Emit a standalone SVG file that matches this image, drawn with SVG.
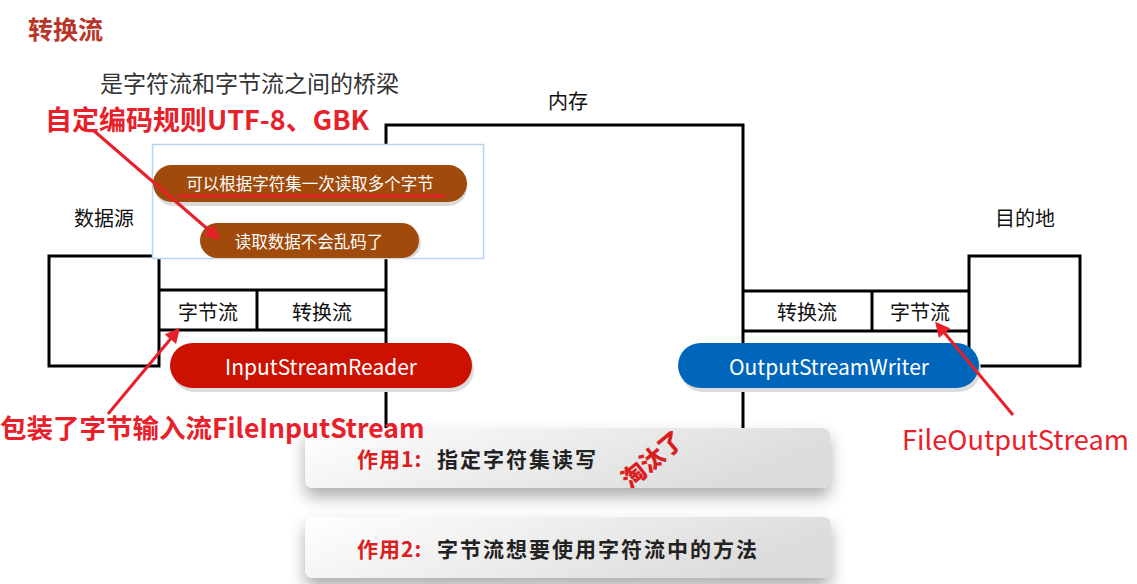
<svg xmlns="http://www.w3.org/2000/svg" width="1137" height="584" viewBox="0 0 1137 584">
<style>
text{font-family:"Noto Sans CJK SC","Noto Sans",sans-serif}
.ln{stroke:#000;stroke-width:3;fill:none}
.lbl{font-size:20px;fill:#111;text-anchor:middle;dominant-baseline:central}
.red{fill:#e8202a;font-weight:bold}
.pilltxt{fill:#fff;font-size:16.5px;text-anchor:middle;dominant-baseline:central}
.pilltxt2{fill:#fff;font-size:21px;text-anchor:middle;dominant-baseline:central}
.arrow{stroke:#e8202a;stroke-width:3;fill:none;marker-end:url(#ah)}
.card{fill:url(#cg);filter:url(#sh)}
.cardtxt{font-size:21px;font-weight:bold;fill:#222;letter-spacing:2px;dominant-baseline:central}
.cardkey{font-size:21px;font-weight:bold;fill:#d9201f;letter-spacing:1px;dominant-baseline:central}
</style>
<defs>
<marker id="ah" viewBox="0 0 10 10" refX="8" refY="5" markerWidth="5" markerHeight="5" orient="auto">
<path d="M0,0 L10,5 L0,10 z" fill="#e8202a"/>
</marker>
<linearGradient id="cg" x1="0" y1="0" x2="1" y2="0.3">
<stop offset="0" stop-color="#ffffff"/>
<stop offset="1" stop-color="#dcdcdc"/>
</linearGradient>
<filter id="sh" x="-10%" y="-30%" width="120%" height="190%">
<feDropShadow dx="0" dy="9" stdDeviation="8" flood-color="#000" flood-opacity="0.32"/>
</filter>
</defs>

<text x="28" y="28" font-size="25" font-weight="bold" fill="#b8352a" dominant-baseline="central">转换流</text>
<text x="100" y="82" font-size="23" fill="#333" dominant-baseline="central">是字符流和字节流之间的桥梁</text>

<g id="connectors">
<path class="ln" d="M386,428 V125 H743 V428"/>
<line class="ln" x1="159" y1="290" x2="386" y2="290"/>
<line class="ln" x1="159" y1="330" x2="386" y2="330"/>
<line class="ln" x1="257" y1="290" x2="257" y2="330"/>
<line class="ln" x1="743" y1="291" x2="968" y2="291"/>
<line class="ln" x1="743" y1="331" x2="968" y2="331"/>
<line class="ln" x1="872" y1="291" x2="872" y2="331"/>
</g>

<text class="lbl" x="568" y="100">内存</text>

<g id="source">
<text class="lbl" x="104" y="217">数据源</text>
<rect class="ln" x="49" y="256" width="110" height="110"/>
</g>
<g id="dest">
<text class="lbl" x="1025" y="217">目的地</text>
<rect class="ln" x="969" y="256" width="111" height="110"/>
</g>

<g id="left-streams">
<text class="lbl" x="208" y="311">字节流</text>
<text class="lbl" x="322" y="311">转换流</text>
</g>
<g id="right-streams">
<text class="lbl" x="807" y="311">转换流</text>
<text class="lbl" x="920" y="311">字节流</text>
</g>

<g id="isr">
<rect x="172" y="347" width="302" height="45" rx="22.5" fill="#dcdcdc"/>
<rect x="170" y="343" width="302" height="45" rx="22.5" fill="#cc1100"/>
<text class="pilltxt2" x="321" y="366">InputStreamReader</text>
</g>
<g id="osw">
<rect x="680" y="347" width="301" height="45" rx="22.5" fill="#dcdcdc"/>
<rect x="678" y="343" width="301" height="45" rx="22.5" fill="#0066bb"/>
<text class="pilltxt2" x="829" y="366">OutputStreamWriter</text>
</g>

<g id="popup">
<rect x="152.5" y="144.5" width="331" height="114" fill="#fff" stroke="#b8d4f5" stroke-width="1.5"/>
<rect x="155" y="169" width="312" height="37" rx="18.5" fill="#dadada"/>
<rect x="153" y="165" width="314" height="37" rx="18.5" fill="#a04a0c"/>
<text class="pilltxt" x="310" y="183">可以根据字符集一次读取多个字节</text>
<line x1="178" y1="196" x2="445" y2="196" stroke="#e8202a" stroke-width="3"/>
<rect x="202" y="227" width="219" height="32" rx="16" fill="#dadada"/>
<rect x="200" y="223" width="219" height="35" rx="17.5" fill="#a04a0c"/>
<text class="pilltxt" x="309" y="241">读取数据不会乱码了</text>
</g>

<g id="card1">
<rect class="card" x="305" y="428" width="525" height="60" rx="8"/>
<text class="cardkey" x="357" y="458">作用1:</text>
<text class="cardtxt" x="437" y="458">指定字符集读写</text>
<text x="651" y="458" font-size="24" font-weight="900" fill="#d9201f" text-anchor="middle" dominant-baseline="central" transform="rotate(-40 651 458)">淘汰了</text>
</g>
<g id="card2">
<rect class="card" x="305" y="517" width="526" height="61" rx="8"/>
<text class="cardkey" x="357" y="548">作用2:</text>
<text class="cardtxt" x="437" y="548">字节流想要使用字符流中的方法</text>
</g>

<text class="red" x="45" y="118" font-size="27" dominant-baseline="central">自定编码规则UTF-8、GBK</text>
<text class="red" x="0" y="426" font-size="26.5" dominant-baseline="central">包装了字节输入流FileInputStream</text>
<text x="902" y="438" font-size="27.2" fill="#e8202a" dominant-baseline="central">FileOutputStream</text>

<g id="annotation-arrows">
<line class="arrow" x1="93" y1="130" x2="218" y2="238"/>
<line class="arrow" x1="108" y1="414" x2="178" y2="330"/>
<line class="arrow" x1="1013" y1="415" x2="937" y2="324"/>
</g>
</svg>
